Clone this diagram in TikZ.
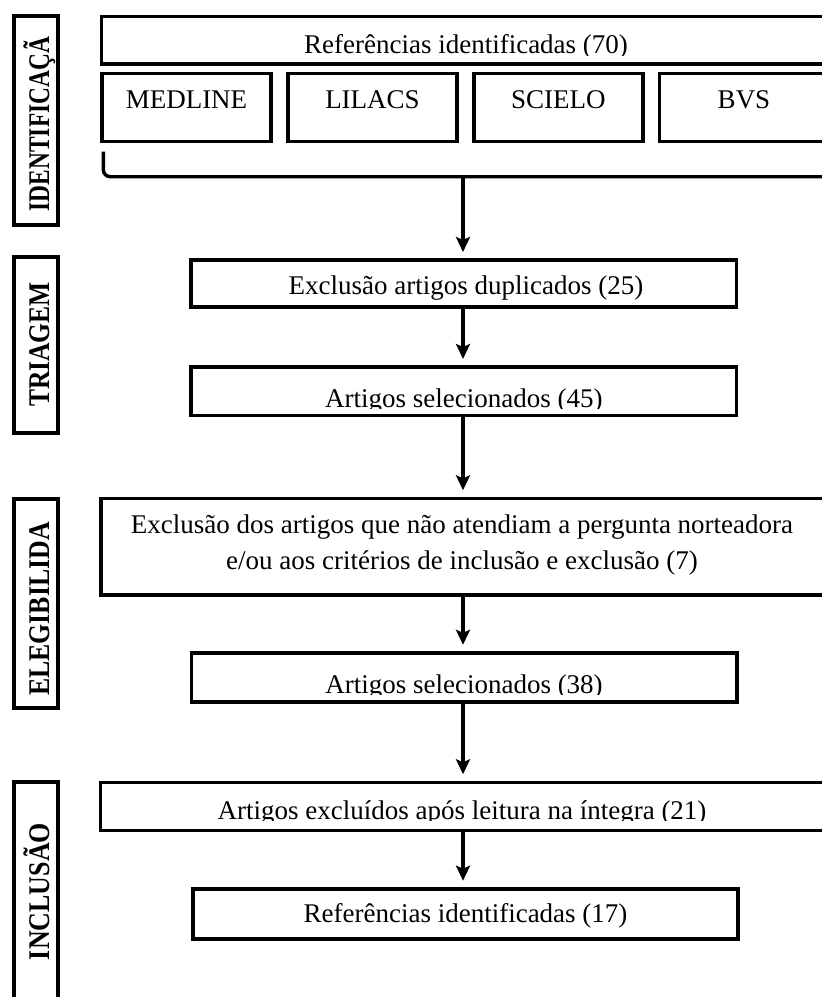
\documentclass[tikz,border=0pt]{standalone}
\usepackage{fontspec}
\setmainfont{Liberation Serif}
\usepackage{graphicx}
\usetikzlibrary{arrows.meta}
\begin{document}
\begin{tikzpicture}[x=1pt,y=-1pt,
  box/.style={draw, line width=3.6pt, inner sep=0pt, outer sep=0pt},
  lbox/.style={draw, line width=4pt, inner sep=0pt, outer sep=0pt, minimum width=44pt},
  txt/.style={font=\fontsize{27}{36}\selectfont, inner sep=0pt, anchor=base},
  lbl/.style={font=\fontsize{30}{36}\selectfont\bfseries, inner sep=0pt, anchor=base, rotate=90},
  arr/.style={line width=3.6pt, -{Stealth[length=15pt,width=14pt,inset=3pt]}, shorten >=8pt},
  brk/.style={line width=3.4pt, rounded corners=7pt}]
\useasboundingbox (0,0) rectangle (822,997);
\clip (0,0) rectangle (822,997);

% phase labels
\node[lbox, minimum height=209pt] (l1) at (36,120.5) {};
\node[lbl] (t1) at (49,124) {\scalebox{0.78}[1]{IDENTIFICAÇÃ}};
\node[lbox, minimum height=176pt] (l2) at (36,345) {};
\node[lbl] (t2) at (49,344.5) {\scalebox{0.85}[1]{TRIAGEM}};
\node[lbox, minimum height=209pt] (l3) at (36,603.5) {};
\node[lbl] (t3) at (49,609) {\scalebox{0.86}[1]{ELEGIBILIDA}};
\node[lbox, minimum height=240pt] (l4) at (36,902) {};
\node[lbl] (t4) at (49,891.5) {\scalebox{0.865}[1]{INCLUSÃO}};

% identification
\node[box, minimum width=730.5pt, minimum height=47.5pt] (ref) at (466.75,40.25) {};
\begin{scope}
\clip (ref.north west) rectangle (832,55);
\node[txt] (tref) at (466,53) {Referências identificadas (70)};
\end{scope}

\node[box, minimum width=169pt, minimum height=68pt] (med) at (186.5,107.5) {};
\node[txt] (tmed) at (186.5,108) {MEDLINE};
\node[box, minimum width=169pt, minimum height=68pt] (lil) at (372.5,107.5) {};
\node[txt] (tlil) at (372.5,108) {LILACS};
\node[box, minimum width=169pt, minimum height=68pt] (sci) at (558.3,107.5) {};
\node[txt] (tsci) at (558.3,108) {SCIELO};
\node[box, minimum width=169pt, minimum height=68pt] (bvs) at (744,107.5) {};
\node[txt] (tbvs) at (744,108) {BVS};

\coordinate (bl) at (103.3,151.7);
\coordinate (br) at (832,176.7);
\coordinate (bo) at (463,176.7);
\coordinate (ax) at (463,0);
\draw[brk] (bl) |- (br);

% screening
\node[box, minimum width=545.7pt, minimum height=47pt] (ex25) at (463.8,283.5) {};
\node[txt] (tex25) at (466,294) {Exclusão artigos duplicados (25)};
\node[box, minimum width=545.7pt, minimum height=48.3pt] (sel45) at (463.8,391.15) {};
\begin{scope}
\clip (sel45.north west) rectangle (740,408);
\node[txt] (tsel45) at (463.8,407) {Artigos selecionados (45)};
\end{scope}

% eligibility
\node[box, minimum width=731pt, minimum height=96.4pt] (nor) at (466.5,546.5) {};
\node[txt] (tnor1) at (462,533) {Exclusão dos artigos que não atendiam a pergunta norteadora};
\node[txt] (tnor2) at (462,569) {e/ou aos critérios de inclusão e exclusão (7)};
\node[box, minimum width=545.4pt, minimum height=49.2pt] (sel38) at (464,677.4) {};
\begin{scope}
\clip (sel38.north west) rectangle (740,694);
\node[txt] (tsel38) at (464,693) {Artigos selecionados (38)};
\end{scope}

% inclusion
\node[box, minimum width=731.5pt, minimum height=48pt] (ex21) at (466.25,806.3) {};
\begin{scope}
\clip (ex21.north west) rectangle (832,820);
\node[txt] (tex21) at (462,819) {Artigos excluídos após leitura na íntegra (21)};
\end{scope}
\node[box, minimum width=545pt, minimum height=50pt] (ref17) at (465.5,913.7) {};
\node[txt] (tref17) at (465.5,922) {Referências identificadas (17)};

% arrows
\draw[arr] (bo) -- (ex25.north -| ax);
\draw[arr] (ex25.south -| ax) -- (sel45.north -| ax);
\draw[arr] (sel45.south -| ax) -- (nor.north -| ax);
\draw[arr] (nor.south -| ax) -- (sel38.north -| ax);
\draw[arr] (sel38.south -| ax) -- (ex21.north -| ax);
\draw[arr] (ex21.south -| ax) -- (ref17.north -| ax);
\end{tikzpicture}
\end{document}
